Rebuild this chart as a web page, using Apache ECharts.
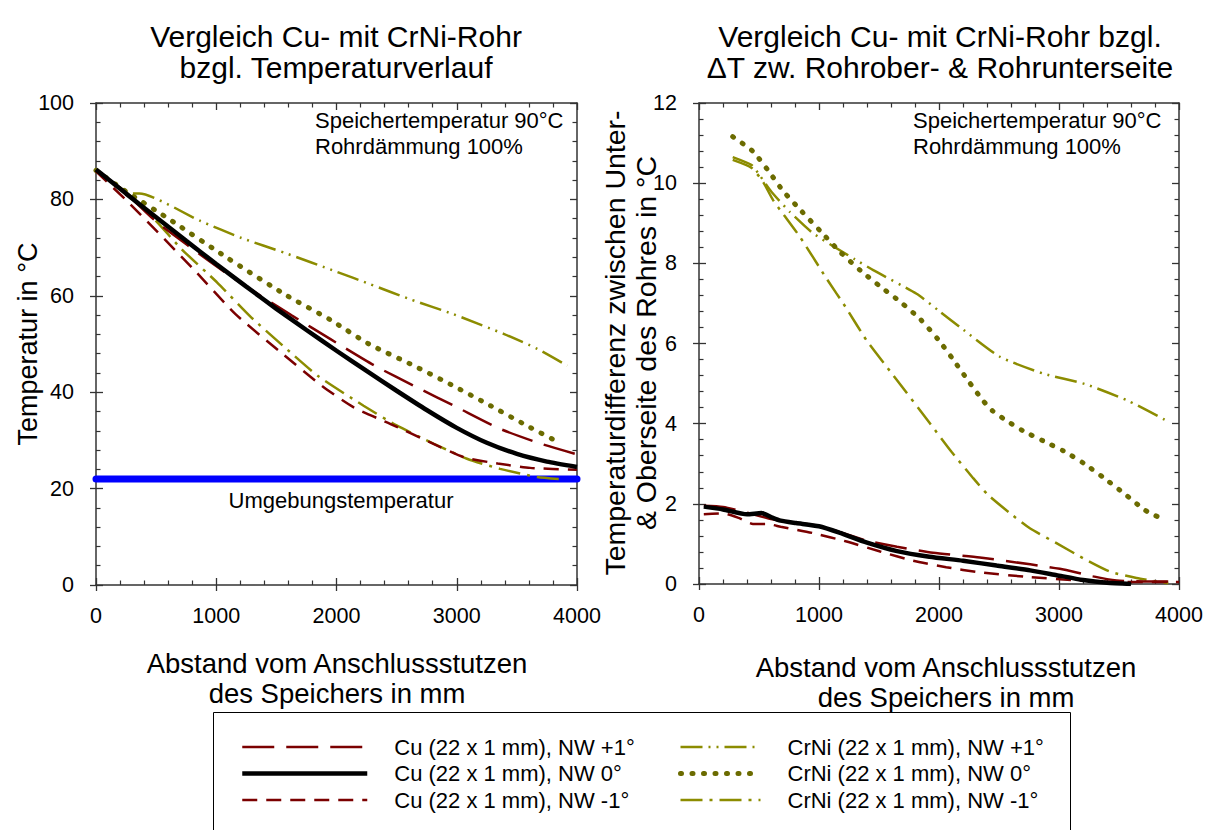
<!DOCTYPE html>
<html><head><meta charset="utf-8">
<script src="https://cdn.jsdelivr.net/npm/echarts@6/dist/echarts.min.js"></script>
<style>html,body{margin:0;padding:0;background:#fff}#c{width:1206px;height:830px}</style>
</head><body><div id="c"></div>
<script>
// ---- tick labels ----
const xTicks = [0, 1000, 2000, 3000, 4000];
const tempTicks = [0, 20, 40, 60, 80, 100];
const dtTicks = [0, 2, 4, 6, 8, 10, 12];

// ---- series names ----
const names = [
  'Cu (22 x 1 mm), NW +1°', 'Cu (22 x 1 mm), NW 0°', 'Cu (22 x 1 mm), NW -1°',
  'CrNi (22 x 1 mm), NW +1°', 'CrNi (22 x 1 mm), NW 0°', 'CrNi (22 x 1 mm), NW -1°'
];

// ---- left chart: temperature [°C] vs distance [mm] ----
const ambientTemp = [[0, 22], [4000, 22]];
const cuP1Temp = [[0,86],[200,82.4],[500,75.4],[800,69.8],[1100,64.4],[1400,59.5],[1630,55.9],[1950,51.0],[2310,45.6],[2670,41.0],[3000,36.9],[3360,32.4],[3700,29.3],[4000,27.1]];
const cu0Temp = [[0,86.2],[250,81.2],[500,76.3],[750,71.4],[1000,66.6],[1250,61.9],[1500,57.3],[1750,52.9],[2000,48.6],[2250,44.4],[2500,40.3],[2750,36.3],[3000,32.6],[3250,29.5],[3500,27.2],[3750,25.6],[4000,24.5]];
const cuM1Temp = [[0,85.8],[285,79],[800,65.8],[1160,56.2],[1520,48.6],[1880,41.3],[2140,36.9],[2450,33.4],[2780,29.6],[3060,26.5],[3340,25.2],[3610,24.3],[4000,23.9]];
const crniP1Temp = [[0,86],[190,82.6],[300,81.2],[360,81.2],[870,75.5],[1210,72.0],[1570,68.9],[2000,65.0],[2280,62.4],[2610,59.3],[2970,56.2],[3390,52.1],[3670,49.0],[3920,45.5]];
const crni0Temp = [[0,86],[240,81.8],[590,76.2],[1090,67.9],[1590,60.0],[1950,55.0],[2270,50.0],[2610,45.9],[2950,41.6],[3280,37.2],[3610,32.7],[3870,29.3]];
const crniM1Temp = [[0,86],[250,81.5],[500,75.5],[715,69.6],[1010,62.7],[1280,55.8],[1570,49.3],[1850,43.3],[2225,37.2],[2500,33.1],[2810,29.3],[3085,26.2],[3360,24.1],[3670,22.4],[3890,21.9]];

// ---- right chart: ΔT [°C] vs distance [mm] ----
const cuP1Dt = [[40,1.95],[200,1.92],[400,1.78],[600,1.62],[800,1.53],[1000,1.45],[1200,1.27],[1400,1.08],[1650,0.93],[1950,0.78],[2340,0.66],[2760,0.49],[3060,0.35],[3285,0.19],[3480,0.09],[3740,0.06],[4000,0.06]];
const cu0Dt = [[40,1.93],[200,1.86],[400,1.74],[520,1.77],[600,1.67],[680,1.58],[810,1.52],[1000,1.44],[1170,1.28],[1400,1.03],[1650,0.82],[1920,0.68],[2200,0.58],[2480,0.46],[2760,0.34],[2980,0.22],[3200,0.10],[3400,0.03],[3600,0.0]];
const cuM1Dt = [[40,1.74],[200,1.76],[330,1.65],[450,1.50],[560,1.50],[680,1.43],[950,1.27],[1230,1.06],[1510,0.81],[1785,0.58],[2060,0.42],[2340,0.29],[2760,0.17],[3170,0.09],[3480,0.05],[4000,0.05]];
const crniP1Dt = [[281,10.65],[439,10.45],[500,10.22],[605,9.78],[758,9.28],[938,8.78],[1105,8.45],[1300,8.1],[1452,7.83],[1813,7.24],[1993,6.83],[2174,6.41],[2507,5.67],[2868,5.25],[3215,4.99],[3576,4.57],[3923,4.03]];
const crni0Dt = [[281,11.16],[447,10.80],[580,10.30],[705,9.79],[858,9.29],[1013,8.80],[1177,8.28],[1346,7.82],[1516,7.41],[1682,7.03],[1846,6.60],[1993,6.10],[2118,5.60],[2241,5.08],[2368,4.57],[2446,4.32],[2535,4.13],[2701,3.82],[2868,3.57],[3037,3.32],[3207,3.01],[3373,2.65],[3542,2.26],[3712,1.85],[3798,1.71],[3882,1.62]];
const crniM1Dt = [[281,10.58],[439,10.38],[536,10.02],[619,9.57],[841,8.66],[1063,7.62],[1230,6.87],[1396,6.08],[1618,5.21],[1924,4.01],[2104,3.30],[2285,2.64],[2410,2.22],[2590,1.77],[2757,1.39],[2979,1.02],[3202,0.64],[3423,0.31],[3646,0.15],[3910,0.02]];

const FONT = '"Liberation Sans", Arial, Helvetica, sans-serif';
const RED = '#7b0000', OLIVE = '#8c8c00', OLIVE_DARK = '#6b6b00';
const styles = [
  { color: RED, width: 2.5, type: [32, 12] },
  { color: '#000', width: 4.5, type: 'solid' },
  { color: RED, width: 2.5, type: [15, 9] },
  { color: OLIVE, width: 2.5, type: [22, 6, 2, 6, 2, 6] },
  { color: OLIVE_DARK, width: 5, type: [1, 10.5], cap: 'round' },
  { color: OLIVE, width: 2.5, type: [22, 7, 3, 7] }
];

function axisSet(gridIndex, ticks, dir) {
  const min = ticks[0], max = ticks[ticks.length - 1], interval = ticks[1] - ticks[0];
  const base = { type: 'value', gridIndex, min, max, interval, splitLine: { show: false } };
  const lineColor = '#333';
  return [
    Object.assign({}, base, { // main axis with labels
      position: dir === 'x' ? 'bottom' : 'left',
      axisLine: { show: true, onZero: false, lineStyle: { color: lineColor, width: 1.5 } },
      axisTick: { show: true, inside: true, length: 7, lineStyle: { color: lineColor, width: 1.3 } },
      minorTick: { show: true, splitNumber: 5, length: 4.5, lineStyle: { color: lineColor, width: 1.2 } },
      axisLabel: { show: true, color: '#000', fontSize: 21.5, fontFamily: FONT,
        margin: dir === 'x' ? 20 : 22, formatter: v => String(v) }
    }),
    Object.assign({}, base, { // mirror axis
      position: dir === 'x' ? 'top' : 'right',
      axisLine: { show: true, onZero: false, lineStyle: { color: lineColor, width: 1.5 } },
      axisTick: { show: true, inside: true, length: 7, lineStyle: { color: lineColor, width: 1.3 } },
      minorTick: { show: true, splitNumber: 5, length: 4.5, lineStyle: { color: lineColor, width: 1.2 } },
      axisLabel: { show: false }
    }),
    Object.assign({}, base, { // outward part of major ticks
      position: dir === 'x' ? 'bottom' : 'left',
      axisLine: { show: false, onZero: false },
      axisTick: { show: true, inside: false, length: 6, lineStyle: { color: lineColor, width: 1.3 } },
      minorTick: { show: false },
      axisLabel: { show: false }
    })
  ];
}

const xAxes = axisSet(0, xTicks, 'x').concat(axisSet(1, xTicks, 'x'));
const yAxes = axisSet(0, tempTicks, 'y').concat(axisSet(1, dtTicks, 'y'));

function lineSeries(name, data, idx, grid) {
  const s = styles[idx];
  return {
    type: 'line', name, data, xAxisIndex: grid * 3, yAxisIndex: grid * 3,
    symbol: 'none', smooth: 0.2, silent: true,
    lineStyle: { color: s.color, width: s.width, type: s.type, cap: s.cap || 'butt' },
    itemStyle: { color: s.color }, z: 3
  };
}

const leftData = [cuP1Temp, cu0Temp, cuM1Temp, crniP1Temp, crni0Temp, crniM1Temp];
const rightData = [cuP1Dt, cu0Dt, cuM1Dt, crniP1Dt, crni0Dt, crniM1Dt];
// draw order: CrNi first, then Cu (black on top)
const order = [3, 5, 4, 0, 2, 1];

const series = [{
  type: 'line', name: 'Umgebungstemperatur', data: ambientTemp, xAxisIndex: 0, yAxisIndex: 0,
  symbol: 'none', silent: true, lineStyle: { color: '#0000ff', width: 7, cap: 'round' }, z: 2
}];
order.forEach(i => series.push(lineSeries(names[i], leftData[i], i, 0)));
order.forEach(i => series.push(lineSeries(names[i], rightData[i], i, 1)));

function txt(text, x, y, size, align, rot) {
  const o = {
    type: 'text', x, y, silent: true,
    style: { text, fill: '#000', font: size + 'px ' + FONT, textAlign: align || 'center', textVerticalAlign: 'middle' }
  };
  if (rot) { o.rotation = rot; }
  return o;
}

const legendText = { color: '#000', fontSize: 22, fontFamily: FONT, lineHeight: 22, padding: [0, 0, 0, 22] };
const legendLine = { width: 'inherit', type: 'inherit', cap: 'inherit', color: 'inherit' };
const legendItem = { opacity: 0, borderWidth: 0 };

const option = {
  animation: false,
  backgroundColor: '#fff',
  grid: [
    { left: 96, top: 103, width: 481, height: 482, outerBoundsMode: 'none', containLabel: false },
    { left: 699, top: 103, width: 480, height: 481, outerBoundsMode: 'none', containLabel: false }
  ],
  xAxis: xAxes,
  yAxis: yAxes,
  legend: [
    { orient: 'vertical', left: 235, top: 731, itemWidth: 125, itemHeight: 14, itemGap: 4.5,
      data: names.slice(0, 3), textStyle: legendText, lineStyle: legendLine, itemStyle: legendItem,
      selectedMode: false },
    { orient: 'vertical', left: 673, top: 731, itemWidth: 80, itemHeight: 14, itemGap: 4.5,
      data: names.slice(3), textStyle: legendText,
      lineStyle: legendLine, itemStyle: legendItem, selectedMode: false }
  ],
  graphic: [
    txt('Vergleich Cu- mit CrNi-Rohr', 336, 36, 30),
    txt('bzgl. Temperaturverlauf', 336, 67, 30),
    txt('Vergleich Cu- mit CrNi-Rohr bzgl.', 940, 36, 30),
    txt('\u0394T zw. Rohrober- & Rohrunterseite', 940, 67, 30),
    txt('Speichertemperatur 90°C', 315, 120, 22, 'left'),
    txt('Rohrdämmung 100%', 315, 146, 22, 'left'),
    txt('Speichertemperatur 90°C', 913, 120, 22, 'left'),
    txt('Rohrdämmung 100%', 913, 146, 22, 'left'),
    txt('Umgebungstemperatur', 341, 500, 22),
    txt('Abstand vom Anschlussstutzen', 337, 663, 27.5),
    txt('des Speichers in mm', 337, 693, 27.5),
    txt('Abstand vom Anschlussstutzen', 946, 667, 27.5),
    txt('des Speichers in mm', 946, 697, 27.5),
    txt('Temperatur in °C', 28, 344, 27, 'center', Math.PI / 2),
    txt('Temperaturdifferenz zwischen Unter-', 615, 343, 28.5, 'center', Math.PI / 2),
    txt('& Oberseite des Rohres in °C', 646, 343, 28.5, 'center', Math.PI / 2),
    { type: 'rect', silent: true, shape: { x: 213.5, y: 712.5, width: 857, height: 130 },
      style: { fill: 'none', stroke: '#000', lineWidth: 1 } }
  ],
  series
};

const chart = echarts.init(document.getElementById('c'), null, { renderer: 'svg' });
chart.setOption(option);
</script>
</body></html>
